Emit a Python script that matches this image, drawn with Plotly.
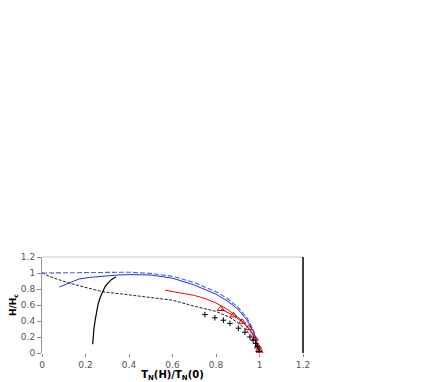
import plotly.graph_objects as go

# curves (x = T_N(H)/T_N(0), y = H/H_c)
blue_dash_x = [0, 0.1, 0.2, 0.3, 0.4, 0.5, 0.6, 0.7, 0.8, 0.85, 0.9, 0.94, 0.97, 0.99, 1.0]
blue_dash_y = [1.0, 1.003, 1.008, 1.012, 1.01, 0.995, 0.96, 0.88, 0.765, 0.685, 0.575, 0.45, 0.3, 0.14, 0.0]

blue_x = [0.08, 0.1, 0.13, 0.17, 0.22, 0.28, 0.35, 0.4, 0.5, 0.6, 0.7, 0.8, 0.85, 0.9, 0.94, 0.97, 0.99, 1.0]
blue_y = [0.825, 0.845, 0.885, 0.925, 0.945, 0.96, 0.975, 0.98, 0.975, 0.935, 0.85, 0.735, 0.655, 0.55, 0.42, 0.28, 0.12, 0.0]

red_x = [0.566, 0.6, 0.65, 0.7, 0.75, 0.8, 0.85, 0.9, 0.94, 0.97, 0.99, 1.0]
red_y = [0.785, 0.77, 0.75, 0.72, 0.68, 0.625, 0.55, 0.45, 0.35, 0.24, 0.11, 0.0]

black_dash_x = [0, 0.05, 0.13, 0.2, 0.28, 0.36, 0.45, 0.54, 0.6, 0.7, 0.75, 0.8, 0.86, 0.9, 0.93, 0.96, 0.98, 0.995, 1.0]
black_dash_y = [1.0, 0.94, 0.87, 0.82, 0.765, 0.74, 0.71, 0.68, 0.66, 0.585, 0.555, 0.52, 0.45, 0.38, 0.31, 0.22, 0.14, 0.05, 0.0]

black_x = [0.233, 0.235, 0.239, 0.245, 0.251, 0.258, 0.267, 0.278, 0.29, 0.305, 0.32, 0.34]
black_y = [0.11, 0.2, 0.31, 0.42, 0.52, 0.61, 0.69, 0.76, 0.83, 0.88, 0.92, 0.95]

tri_x = [0.822, 0.88, 0.92, 0.95, 0.979, 0.993, 0.998, 1.0]
tri_y = [0.55, 0.47, 0.39, 0.31, 0.18, 0.08, 0.04, 0.02]

plus_x = [0.749, 0.795, 0.834, 0.864, 0.903, 0.933, 0.956, 0.971, 0.982, 0.99, 0.998]
plus_y = [0.48, 0.44, 0.41, 0.37, 0.31, 0.26, 0.20, 0.16, 0.12, 0.08, 0.02]

ticks = [0, 0.2, 0.4, 0.6, 0.8, 1, 1.2]
tick_labels = ['0', '0.2', '0.4', '0.6', '0.8', '1', '1.2']

fig = go.Figure()
fig.add_trace(go.Scatter(x=black_dash_x, y=black_dash_y, mode='lines',
                         line=dict(color='#222', width=1, dash='3px,1.5px')))
fig.add_trace(go.Scatter(x=blue_dash_x, y=blue_dash_y, mode='lines',
                         line=dict(color='#4a5cf0', width=1.1, dash='5px,2px')))
fig.add_trace(go.Scatter(x=blue_x, y=blue_y, mode='lines',
                         line=dict(color='#1f2fe0', width=1)))
fig.add_trace(go.Scatter(x=red_x, y=red_y, mode='lines',
                         line=dict(color='red', width=1)))
fig.add_trace(go.Scatter(x=black_x, y=black_y, mode='lines',
                         line=dict(color='black', width=1.2)))
fig.add_trace(go.Scatter(x=tri_x, y=tri_y, mode='lines+markers',
                         line=dict(color='#b01010', width=1),
                         marker=dict(symbol='triangle-up-open', size=6, color='#b01010',
                                     line=dict(width=1))))
fig.add_trace(go.Scatter(x=plus_x, y=plus_y, mode='markers',
                         marker=dict(symbol='cross-thin-open', size=4, color='black',
                                     line=dict(width=1, color='black'))))

# page body has an 8px margin, so the figure is shrunk by that much
tickfont = dict(family='DejaVu Sans', size=9, color='#555')
fig.update_layout(
    width=428, height=374,
    margin=dict(l=34, r=133, t=249, b=29),
    plot_bgcolor='white', paper_bgcolor='white',
    showlegend=False,
    xaxis=dict(range=[0, 1.2], tickvals=ticks, ticktext=tick_labels,
               showgrid=False, zeroline=False, showline=False, automargin=False,
               ticks='outside', ticklen=3, tickcolor='#888', tickfont=tickfont,
               title=dict(text='<b>T<sub>N</sub>(H)/T<sub>N</sub>(0)</b>', standoff=3,
                          font=dict(family='DejaVu Sans', size=10, color='black'))),
    yaxis=dict(range=[0, 1.2], tickvals=ticks, ticktext=tick_labels,
               showgrid=False, zeroline=False, showline=True, linecolor='#999', linewidth=1,
               automargin=False,
               ticks='outside', ticklen=4, tickcolor='#888', tickfont=tickfont,
               title=dict(text='<b>H/H<sub>c</sub></b>', standoff=3,
                          font=dict(family='DejaVu Sans', size=9, color='black'))),
    shapes=[
        dict(type='line', xref='paper', yref='paper', x0=0, x1=1, y0=1, y1=1,
             line=dict(color='#ccc', width=1)),
        dict(type='line', xref='paper', yref='paper', x0=1, x1=1, y0=0, y1=1,
             line=dict(color='black', width=1.5)),
    ],
)

fig.write_html("out.html")
